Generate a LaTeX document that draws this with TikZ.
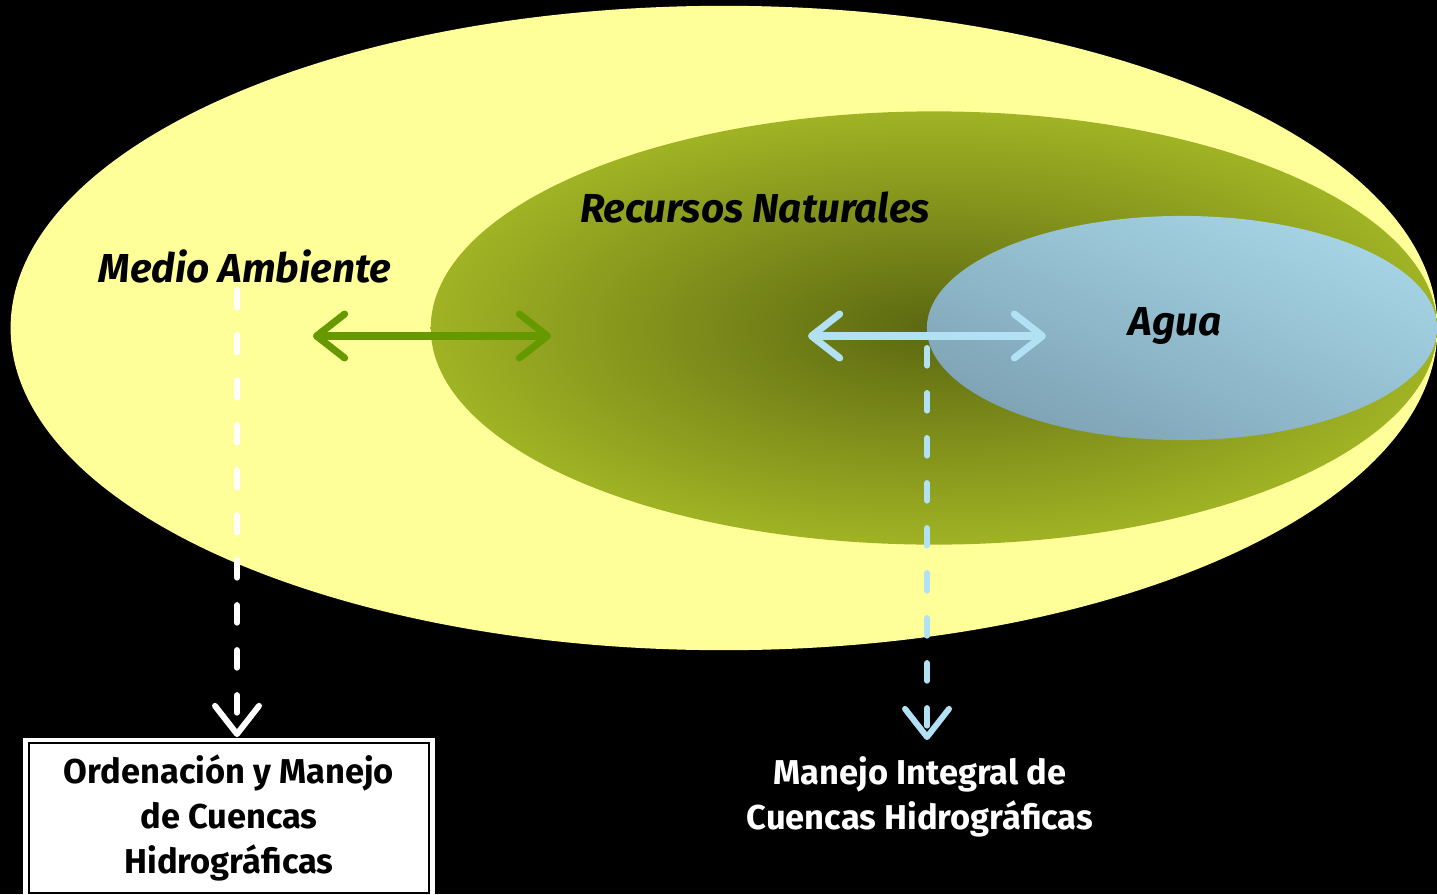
\documentclass[tikz,border=0pt]{standalone}
\usepackage{fontspec}
\setmainfont{Fira Sans}
\usetikzlibrary{shapes.geometric,arrows.meta,shadings}

\definecolor{amarillo}{HTML}{FFFF99}
\definecolor{verdeclaro}{HTML}{A0B324}
\definecolor{verdeoscuro}{HTML}{5C6811}
\definecolor{verdeflecha}{HTML}{669900}
\definecolor{celeste}{HTML}{B2E1F3}
\definecolor{aguaclaro}{HTML}{ACDCEC}
\definecolor{aguamedio}{HTML}{93BED0}
\definecolor{aguaoscuro}{HTML}{7699AA}

\tikzset{
  zona/.style={ellipse, inner sep=0pt},
  rotulo/.style={font=\bfseries\itshape\fontsize{11.5}{13}\selectfont},
  cartel/.style={align=center, font=\bfseries\fontsize{9.8}{12.7}\selectfont},
  punta/.tip={Straight Barb[length=8pt,width=12.5pt,round]},
  flecha/.style={line width=2pt, line cap=round, punta-punta},
  guia/.style={line width=1.7pt, line cap=round, dash pattern=on 5pt off 7.8pt, -punta},
}

\begin{document}
\begin{tikzpicture}[x=0.01cm, y=-0.01cm]
  \fill[black] (0,0) rectangle (1437,894);
  \useasboundingbox (0,0) rectangle (1437,894);
  \begin{scope}
    \clip (0,0) rectangle (1437,894);
    \node[zona, fill=amarillo, minimum width=14.26cm, minimum height=6.44cm] (ambiente) at (724,328) {};
    \node[zona, inner color=verdeoscuro, outer color=verdeclaro, minimum width=10.06cm, minimum height=4.33cm] (recursos) at (934,328) {};
    \node[zona, upper right=aguaclaro, upper left=aguamedio, lower right=aguamedio, lower left=aguaoscuro, minimum width=5.1cm, minimum height=2.24cm] (agua) at (1182,328) {};
  \end{scope}

  \node[rotulo] (tambiente) at (245,266) {Medio Ambiente};
  \node[rotulo] (trecursos) at (755,207) {Recursos Naturales};
  \node[rotulo] (tagua) at (1175,326) {Agua};

  \coordinate (g1) at (313,336);
  \coordinate (g2) at (551,336);
  \coordinate (c1) at (808,336);
  \coordinate (c2) at (1046,336);
  \coordinate (d1) at (237,290);
  \coordinate (d2) at (237,737);
  \coordinate (e1) at (927,348);
  \coordinate (e2) at (927,740);

  \draw[flecha, verdeflecha] (g1) -- (g2);
  \draw[flecha, celeste] (c1) -- (c2);
  \draw[guia, white] (d1) -- (d2);
  \draw[guia, celeste] (e1) -- (e2);

  \node[cartel, draw=white, double=black, double distance=0.7pt, line width=1.2pt, fill=white,
        minimum width=4.0cm, minimum height=1.5cm, inner sep=0pt] (ordenacion) at (229,818)
        {Ordenación y Manejo\\de Cuencas\\Hidrográficas};
  \node[cartel, text=white] (manejo) at (920,797)
        {Manejo Integral de\\Cuencas Hidrográficas};
\end{tikzpicture}
\end{document}
